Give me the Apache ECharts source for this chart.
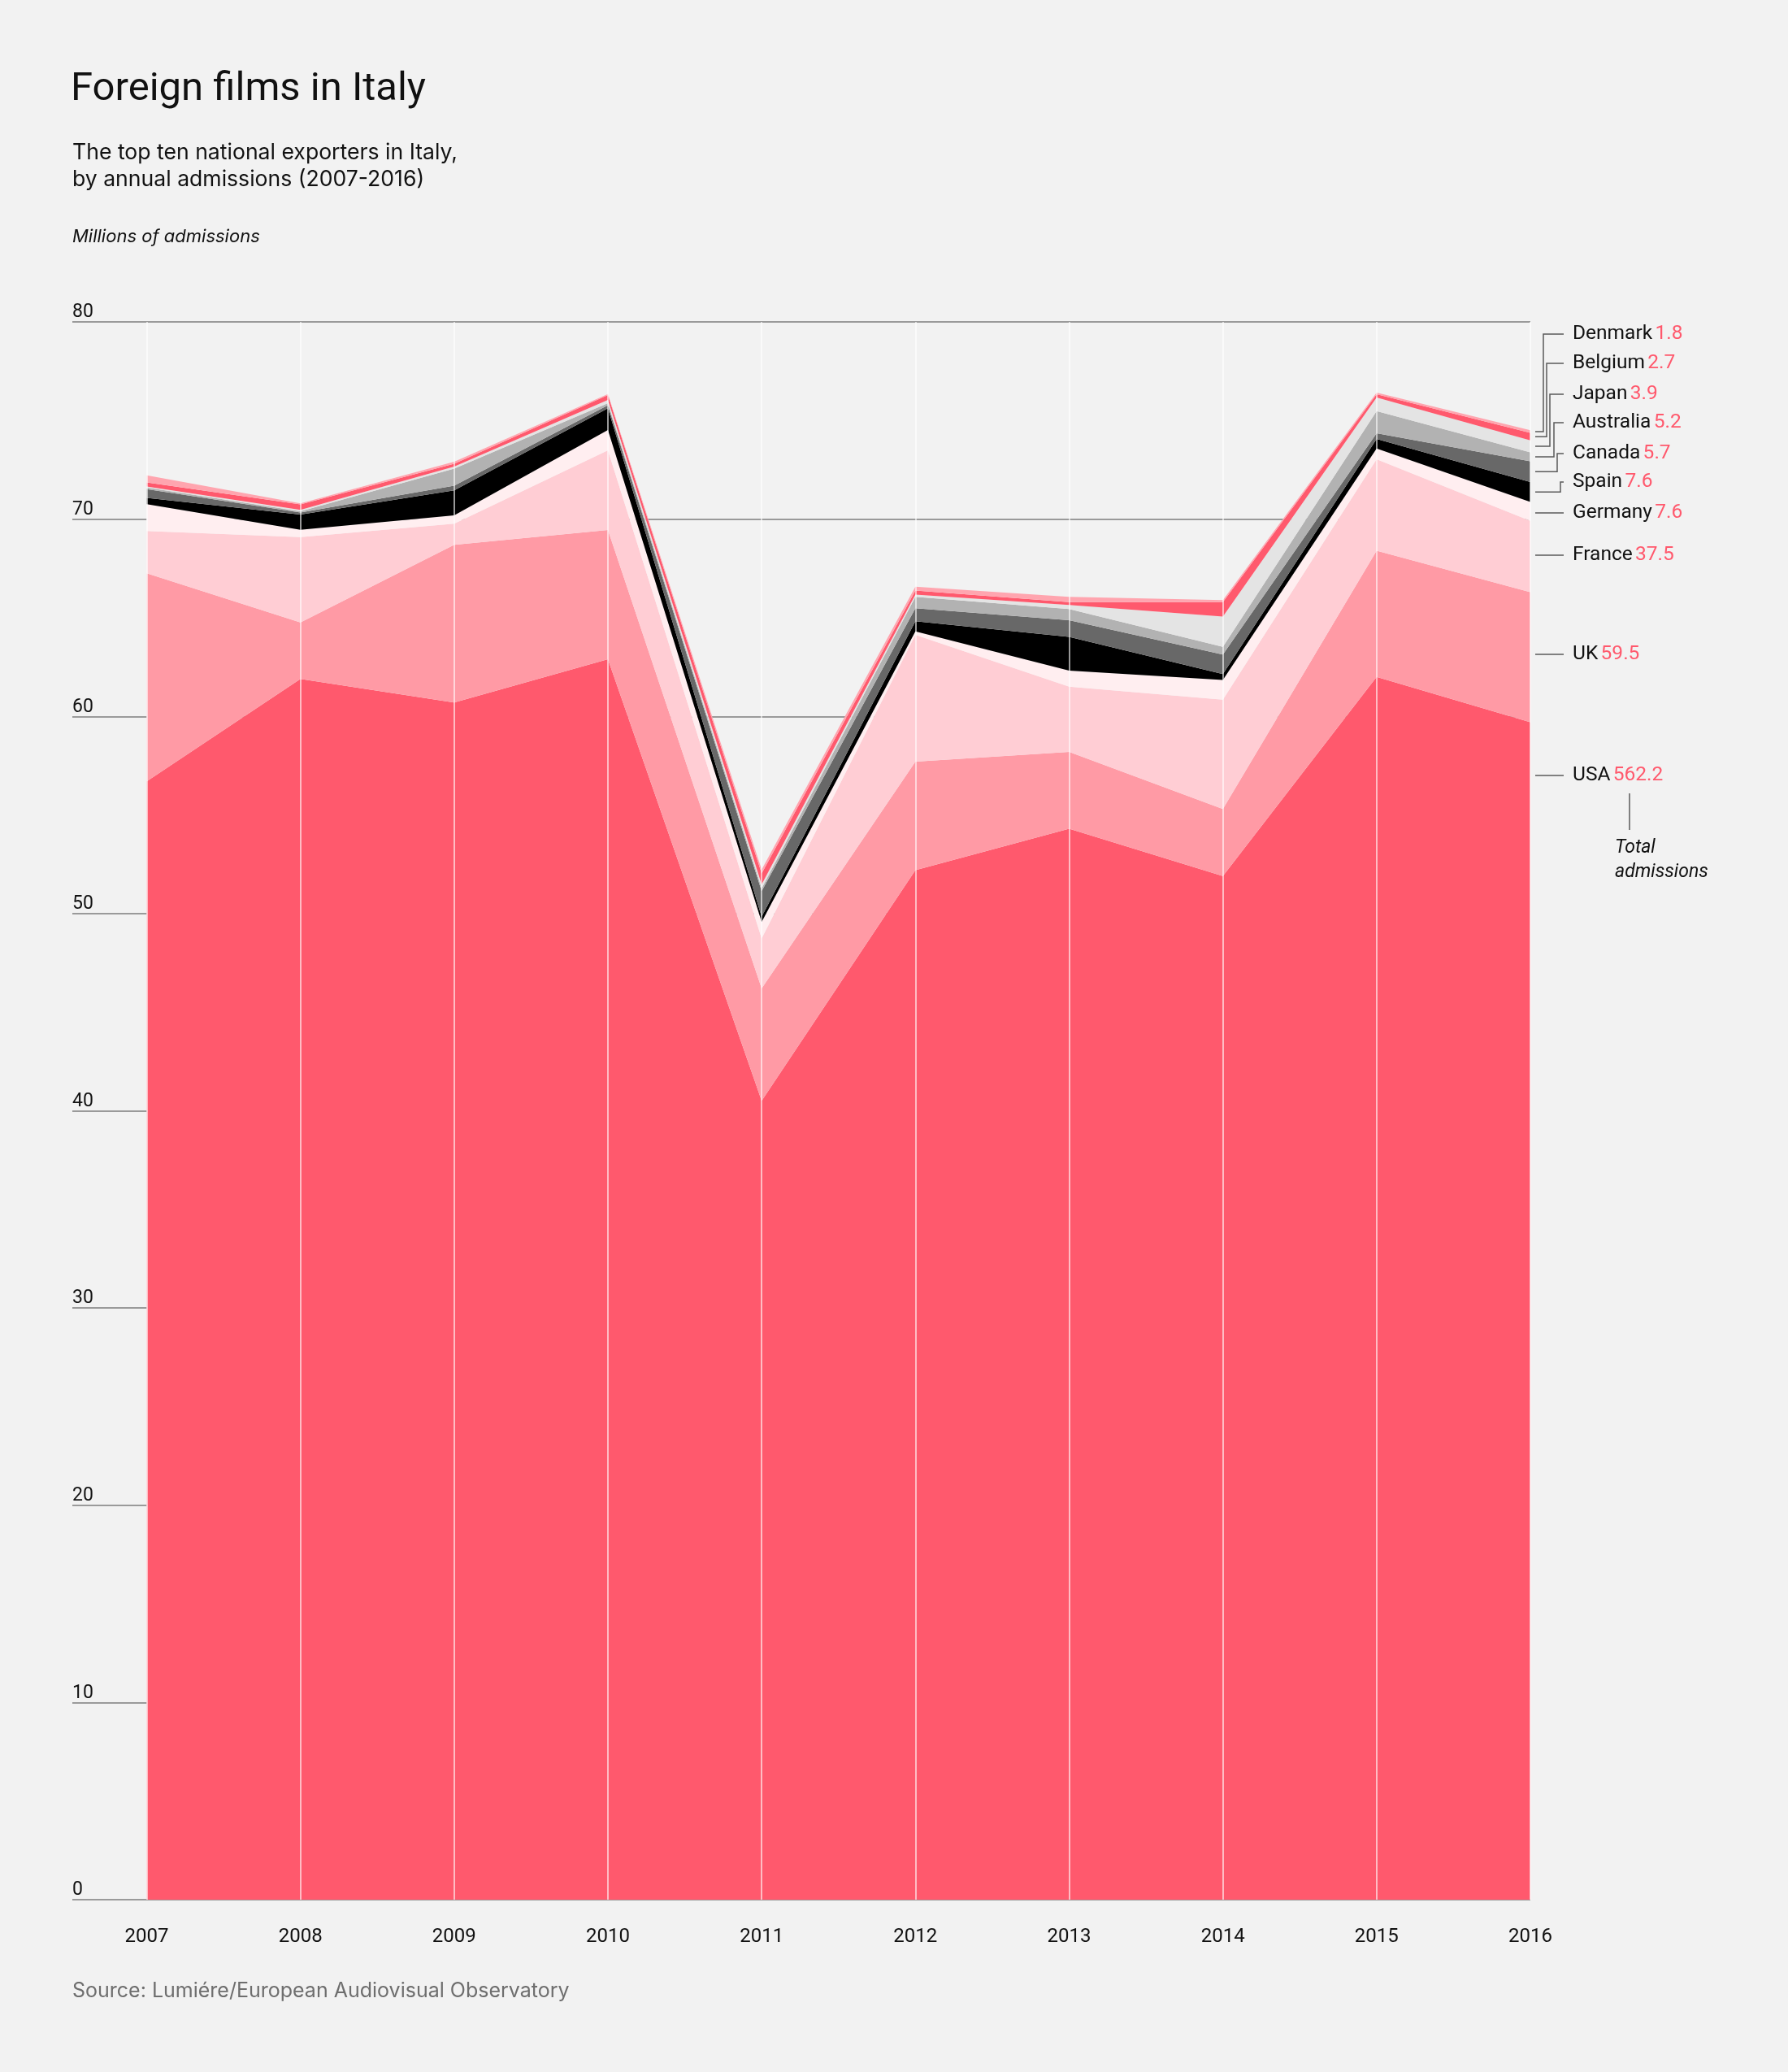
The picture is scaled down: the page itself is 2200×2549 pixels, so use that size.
<!DOCTYPE html>
<html><head><meta charset="utf-8">
<script src="https://cdn.jsdelivr.net/npm/echarts@6/dist/echarts.min.js"></script>
<style>html,body{margin:0;padding:0;background:#f2f2f2}#c{width:2200px;height:2549px}</style>
</head><body><div id="c"></div>
<script>
const years = ['2007','2008','2009','2010','2011','2012','2013','2014','2015','2016'];
const countries = ['USA','UK','France','Germany','Spain','Canada','Australia','Japan','Belgium','Denmark'];
const totals = ['562.2','59.5','37.5','7.6','7.6','5.7','5.2','3.9','2.7','1.8'];
const yTicks = [0,10,20,30,40,50,60,70,80];

const usa       = [56.7, 61.9, 60.7, 62.9, 40.5, 52.2, 54.3, 51.9, 62.0, 59.7];
const uk        = [10.55, 2.86, 8.0, 6.55, 5.7, 5.5, 3.9, 3.4, 6.4, 6.6];
const france    = [2.15, 4.33, 1.07, 4.04, 2.54, 6.43, 3.3, 5.54, 4.63, 3.61];
const germany   = [1.36, 0.37, 0.42, 1.03, 0.83, 0.18, 0.82, 1.0, 0.55, 0.96];
const spain     = [0.32, 0.77, 1.27, 1.1, 0.27, 0.51, 1.71, 0.3, 0.48, 1.01];
const canada    = [0.44, 0.1, 0.23, 0.16, 1.3, 0.66, 0.84, 0.99, 0.29, 1.05];
const australia = [0.08, 0.07, 0.87, 0.1, 0.14, 0.58, 0.57, 0.39, 1.13, 0.46];
const japan     = [0.05, 0.07, 0.1, 0.16, 0.2, 0.11, 0.21, 1.54, 0.69, 0.6];
const belgium   = [0.21, 0.28, 0.15, 0.25, 0.55, 0.21, 0.14, 0.73, 0.16, 0.38];
const denmark   = [0.36, 0.05, 0.1, 0.05, 0.2, 0.19, 0.27, 0.1, 0.08, 0.14];

const seriesData = [usa, uk, france, germany, spain, canada, australia, japan, belgium, denmark];
const colors = ['#ff596d','#ff9aa5','#ffcdd4','#ffeef0','#000000','#686868','#b2b2b2','#e4e4e4','#ff596d','#ffa5af'];

const FONT = 'Roboto, "Noto Sans", sans-serif';
const FONT2 = 'Inter, Roboto, sans-serif';
const chart = echarts.init(document.getElementById('c'), null, {renderer:'canvas'});

const series = seriesData.map((d, i) => {
  const s = {
    name: countries[i], type: 'line', xAxisIndex: 1, yAxisIndex: 1, stack: 'total',
    symbol: 'none', smooth: false, lineStyle: {width: 0}, areaStyle: {color: colors[i], opacity: 1},
    data: d, z: 3
  };
  if (i === seriesData.length - 1) {
    s.markLine = {
      silent: true, symbol: ['none','none'], label: {show: false},
      lineStyle: {color: 'rgba(255,255,255,0.8)', width: 1.5, type: 'solid'},
      data: years.map(y => ({xAxis: y})), animation: false
    };
  }
  return s;
});

const staticGraphics = [
  {id: 'title', type: 'text', left: 87, top: 86, style: {text: 'Foreign films in Italy', font: '49px ' + FONT, fill: '#111'}},
  {id: 'sub', type: 'text', left: 89, top: 171, style: {text: 'The top ten national exporters in Italy,\nby annual admissions (2007-2016)', font: '26.6px ' + FONT2, fill: '#111', lineHeight: 33}},
  {id: 'unit', type: 'text', left: 89, top: 280, style: {text: 'Millions of admissions', font: 'italic 22px ' + FONT2, fill: '#111'}},
  {id: 'src', type: 'text', left: 89, top: 2437, style: {text: 'Source: Lumiére/European Audiovisual Observatory', font: '25px ' + FONT2, fill: '#6e6e6e'}}
];

chart.setOption({
  backgroundColor: '#f2f2f2',
  animation: false,
  textStyle: {fontFamily: FONT},
  grid: [
    {left: 89, right: 317, top: 396, bottom: 212},
    {left: 180.5, right: 317, top: 396, bottom: 212}
  ],
  xAxis: [
    {gridIndex: 0, type: 'value', min: 0, max: 1, show: false},
    {gridIndex: 1, type: 'category', data: years, boundaryGap: false,
     axisLine: {show: false}, axisTick: {show: false}, splitLine: {show: false},
     axisLabel: {fontSize: 24, color: '#111', margin: 34, fontFamily: FONT}}
  ],
  yAxis: [
    {gridIndex: 0, type: 'value', min: yTicks[0], max: yTicks[yTicks.length-1], interval: 10,
     axisLine: {show: false}, axisTick: {show: false},
     splitLine: {show: true, lineStyle: {color: '#7d7d7d', width: 1.5}},
     axisLabel: {inside: true, margin: 0, fontSize: 23, color: '#111', verticalAlign: 'bottom',
                 padding: [0, 0, 0, 0], fontFamily: FONT}},
    {gridIndex: 1, type: 'value', min: 0, max: 80, show: false}
  ],
  series: series
});

// Right-hand labels with leader lines, anchored to the 2016 band positions
const labelY = [954, 805, 683, 631, 593, 558, 520, 485, 447, 411];
const elbowX = {4: 1920, 5: 1916, 6: 1912, 7: 1907, 8: 1903, 9: 1899};
const g = staticGraphics.slice();
let cum = 0;
const last = years.length - 1;
const edgePt = chart.convertToPixel({xAxisIndex: 1, yAxisIndex: 1}, [last, 0]);
const xEdge = edgePt[0] + 6;
const xEnd = 1924;
seriesData.forEach((d, i) => {
  const lo = cum; cum += d[last]; const hi = cum;
  const mid = chart.convertToPixel({xAxisIndex: 1, yAxisIndex: 1}, [last, (lo + hi) / 2])[1];
  const ly = labelY[i];
  let pts;
  if (elbowX[i] !== undefined) {
    const ex = elbowX[i];
    pts = [[xEdge, mid], [ex, mid], [ex, ly], [xEnd, ly]];
  } else {
    pts = [[xEdge, ly], [xEnd, ly]];
  }
  g.push({id: 'lead' + i, type: 'polyline', shape: {points: pts}, style: {stroke: '#5a5a5a', lineWidth: 1.5, fill: null}, z: 10});
  g.push({id: 'lab' + i, type: 'text', x: 1935, y: ly, style: {
    text: '{n|' + countries[i] + '} {v|' + totals[i] + '}',
    verticalAlign: 'middle', align: 'left',
    rich: {n: {font: '24.5px ' + FONT, fill: '#111'}, v: {font: '24.5px ' + FONT, fill: '#ff596d'}}
  }, z: 10});
});
g.push({id: 'totLine', type: 'line', shape: {x1: 2005, y1: 976, x2: 2005, y2: 1021}, style: {stroke: '#5a5a5a', lineWidth: 1.5}, z: 10});
g.push({id: 'totText', type: 'text', x: 1987, y: 1028, style: {text: 'Total\nadmissions', font: 'italic 23px ' + FONT, fill: '#111', lineHeight: 30}, z: 10});
chart.setOption({graphic: g});
</script>
</body></html>
